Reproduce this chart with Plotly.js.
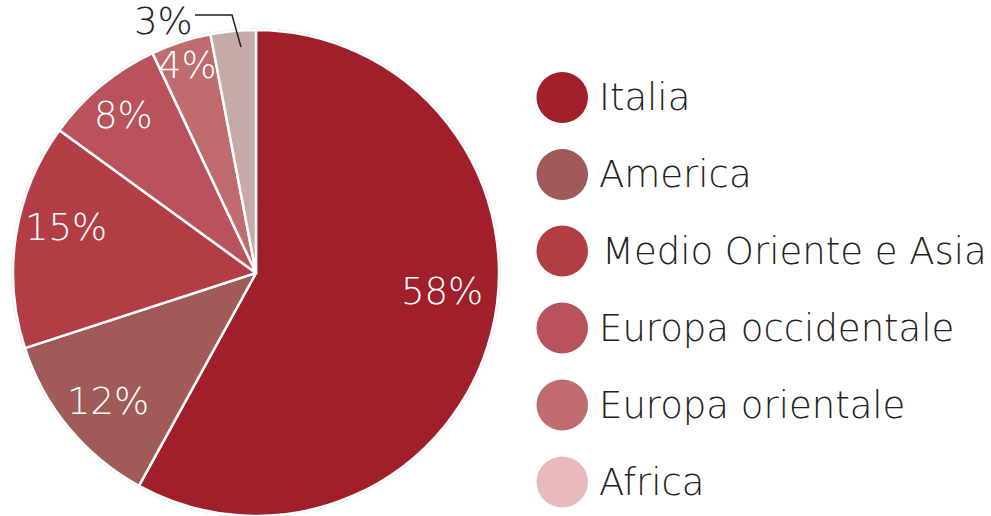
<!DOCTYPE html>
<html><head><meta charset="utf-8">
<script src="https://cdn.plot.ly/plotly-3.0.1.min.js"></script>
<style>body{margin:0;background:#fff}#c{width:991px;height:516px}</style>
</head><body><div id="c"></div>
<script>
const categories = ["Italia","America","Medio Oriente e Asia","Europa occidentale","Europa orientale","Africa"];
const values = [58,12,15,8,4,3];
const sliceColors = ["#a01f2a","#a05a58","#b33d45","#b9525b","#c06c6e","#c5aaa7"];
const legendColors = ["#a01f2a","#a05a58","#b33d45","#b9525b","#c06c6e","#e8babe"];

const W = 991, H = 516;
const px = x => x / W, py = y => 1 - y / H;
const FONT = "DejaVu Sans";
const FS = 37;

const pie = {
  type: "pie", labels: categories, values: values, sort: false,
  direction: "clockwise", rotation: 0,
  textinfo: "none",
  marker: {colors: sliceColors, line: {color: "#ffffff", width: 2.5}},
  domain: {x: [13 / W, 499 / W], y: [0, 486 / H]},
  showlegend: false, hoverinfo: "skip"
};

const shapes = [];
const annotations = [];
const CX = 256, CY = 273, R = 243;
shapes.push({type: "circle", xref: "paper", yref: "paper", layer: "below",
  x0: px(CX - R - 1), x1: px(CX + R + 1), y0: py(CY - R - 1), y1: py(CY + R + 1),
  line: {color: "#e3e5e8", width: 1.5}, fillcolor: "rgba(0,0,0,0)"});

// inside percentage labels, placed along each slice's mid angle (with small nudges)
const labelNudge = [[0, -29], [0, 6], [0, -15], [-10, -10], [-9, -25]];
const total = values.reduce((a, b) => a + b, 0);
const labelR = 0.79;
let cum = 0;
values.forEach((v, i) => {
  const mid = (cum + v / 2) / total * 2 * Math.PI;
  cum += v;
  if (i === values.length - 1) return;
  const x = CX + labelR * R * Math.sin(mid) + labelNudge[i][0];
  const y = CY - labelR * R * Math.cos(mid) + labelNudge[i][1];
  annotations.push({xref: "paper", yref: "paper", x: px(x), y: py(y),
    xanchor: "center", yanchor: "middle", text: v + "%", showarrow: false,
    font: {family: FONT, size: FS, color: "#ffffff", weight: 200}});
});

const legY = [97.5, 174.5, 251, 328, 405, 482];
categories.forEach((c, i) => {
  const yc = legY[i];
  shapes.push({type: "circle", xref: "paper", yref: "paper",
    x0: px(536.5), x1: px(588), y0: py(yc - 25.5), y1: py(yc + 25.5),
    fillcolor: legendColors[i], line: {width: 0}});
  annotations.push({xref: "paper", yref: "paper", x: px(i === 2 ? 600 : 597), y: py(yc),
    xanchor: "left", yanchor: "middle", text: c, showarrow: false,
    font: {family: FONT, size: FS, color: "#222222", weight: 200}});
});

// outside label for the smallest slice with leader line
const last = values.length - 1;
annotations.push({xref: "paper", yref: "paper", x: px(163), y: py(22),
  xanchor: "center", yanchor: "middle", text: values[last] + "%", showarrow: false,
  font: {family: FONT, size: FS, color: "#222222", weight: 200}});
shapes.push({type: "path", xref: "paper", yref: "paper",
  path: `M ${px(195)} ${py(15)} L ${px(232)} ${py(15)} L ${px(241)} ${py(47)}`,
  line: {color: "#222222", width: 1.5}});

Plotly.newPlot("c", [pie], {
  width: W, height: H, margin: {l: 0, r: 0, t: 0, b: 0},
  paper_bgcolor: "#ffffff", plot_bgcolor: "#ffffff",
  shapes: shapes, annotations: annotations, showlegend: false
}, {staticPlot: true});
</script></body></html>
